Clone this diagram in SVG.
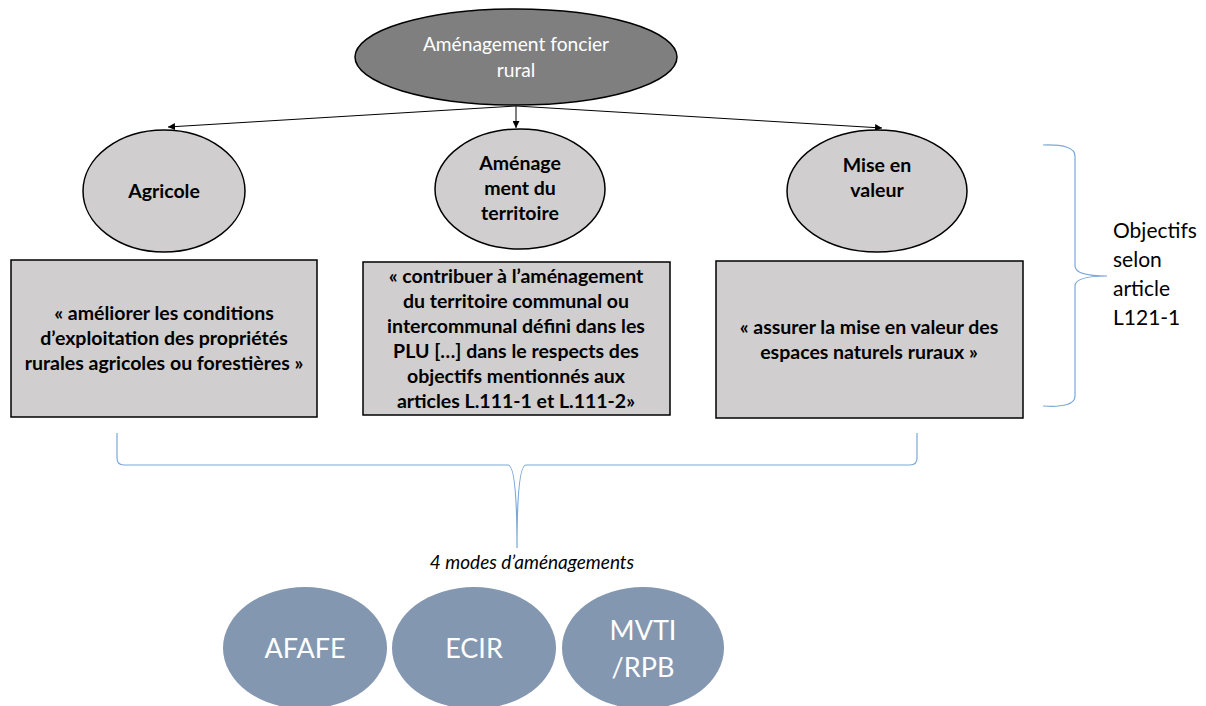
<svg xmlns="http://www.w3.org/2000/svg" width="1206" height="706" viewBox="0 0 1206 706">
<style>
.t{font-family:Lato,"Liberation Sans",sans-serif;}
.b{font-weight:bold;font-size:19.5px;fill:#000;text-anchor:middle;}
.node{fill:#d0cece;stroke:#000;stroke-width:1.5;}
.mode{fill:#8497b0;}
.mt{font-size:27px;fill:#fff;text-anchor:middle;}
.brace{fill:none;stroke:#7ba7d9;stroke-width:1.2;}
.conn{stroke:#000;stroke-width:1;fill:none;}
</style>
<defs>
<marker id="arr" viewBox="0 0 10 10" refX="10" refY="5" markerWidth="7" markerHeight="7" orient="auto" markerUnits="userSpaceOnUse">
<path d="M0,0 L10,5 L0,10 z" fill="#000"/>
</marker>
</defs>
<rect width="1206" height="706" fill="#fff"/>
<g id="connectors">
<line class="conn" x1="516" y1="106" x2="168" y2="127" marker-end="url(#arr)"/>
<line class="conn" x1="516" y1="106" x2="516" y2="128" marker-end="url(#arr)"/>
<line class="conn" x1="516" y1="106" x2="882" y2="128" marker-end="url(#arr)"/>
</g>
<g id="root">
<ellipse cx="516" cy="57" rx="161" ry="48" fill="#7f7f7f" stroke="#000" stroke-width="1.5"/>
<text class="t" x="516" y="51" font-size="19.2" fill="#fff" text-anchor="middle">Aménagement foncier</text>
<text class="t" x="516" y="77" font-size="19.2" fill="#fff" text-anchor="middle">rural</text>
</g>
<g id="agricole">
<ellipse class="node" cx="164" cy="191" rx="81" ry="61"/>
<text class="t b" x="164" y="198">Agricole</text>
</g>
<g id="amenagement">
<ellipse class="node" cx="520" cy="189" rx="85" ry="60"/>
<text class="t b" x="520" y="170">Aménage</text>
<text class="t b" x="520" y="195">ment du</text>
<text class="t b" x="520" y="220">territoire</text>
</g>
<g id="mise">
<ellipse class="node" cx="877" cy="191" rx="90" ry="61"/>
<text class="t b" x="877" y="172">Mise en</text>
<text class="t b" x="877" y="197">valeur</text>
</g>
<g id="box-agricole">
<rect class="node" x="11" y="260" width="306" height="157"/>
<text class="t b" x="164" y="320">« améliorer les conditions</text>
<text class="t b" x="164" y="345">d’exploitation  des propriétés</text>
<text class="t b" x="164" y="370">rurales agricoles ou forestières »</text>
</g>
<g id="box-amenagement">
<rect class="node" x="363" y="262" width="307" height="153"/>
<text class="t b" x="516" y="283">« contribuer à l’aménagement</text>
<text class="t b" x="516" y="308">du territoire communal ou</text>
<text class="t b" x="516" y="333">intercommunal défini dans les</text>
<text class="t b" x="516" y="358">PLU […] dans le  respects des</text>
<text class="t b" x="516" y="383">objectifs mentionnés aux</text>
<text class="t b" x="516" y="408">articles L.111-1 et L.111-2»</text>
</g>
<g id="box-mise">
<rect class="node" x="716" y="261" width="307" height="157"/>
<text class="t b" x="869" y="334">« assurer la mise en valeur des</text>
<text class="t b" x="869" y="359">espaces naturels ruraux  »</text>
</g>
<g id="brace-objectifs">
<path class="brace" d="M1043,145 Q1075,144 1075,156 L1075,266 Q1075,276 1107,276 Q1075,276 1075,286 L1075,396 Q1075,408 1043,406"/>
<text class="t" x="1113" y="238" font-size="21" fill="#000">Objectifs</text>
<text class="t" x="1113" y="267" font-size="21" fill="#000">selon</text>
<text class="t" x="1113" y="296" font-size="21" fill="#000">article</text>
<text class="t" x="1113" y="325" font-size="21" fill="#000">L121-1</text>
</g>
<g id="brace-modes">
<path class="brace" d="M117,433 L117,458 Q117,465 124,465 L508,465 Q517,465 517,548 Q517,465 526,465 L910,465 Q917,465 917,458 L917,433"/>
<text class="t" x="532" y="569" font-size="19" font-style="italic" fill="#000" text-anchor="middle">4 modes d’aménagements</text>
</g>
<g id="afafe">
<ellipse class="mode" cx="305" cy="648" rx="82" ry="61"/>
<text class="t mt" x="305" y="658">AFAFE</text>
</g>
<g id="ecir">
<ellipse class="mode" cx="474" cy="648" rx="82" ry="61"/>
<text class="t mt" x="474" y="658">ECIR</text>
</g>
<g id="mvti">
<ellipse class="mode" cx="643" cy="648" rx="81" ry="61"/>
<text class="t mt" x="643" y="640">MVTI</text>
<text class="t mt" x="643" y="677">/RPB</text>
</g>
</svg>
